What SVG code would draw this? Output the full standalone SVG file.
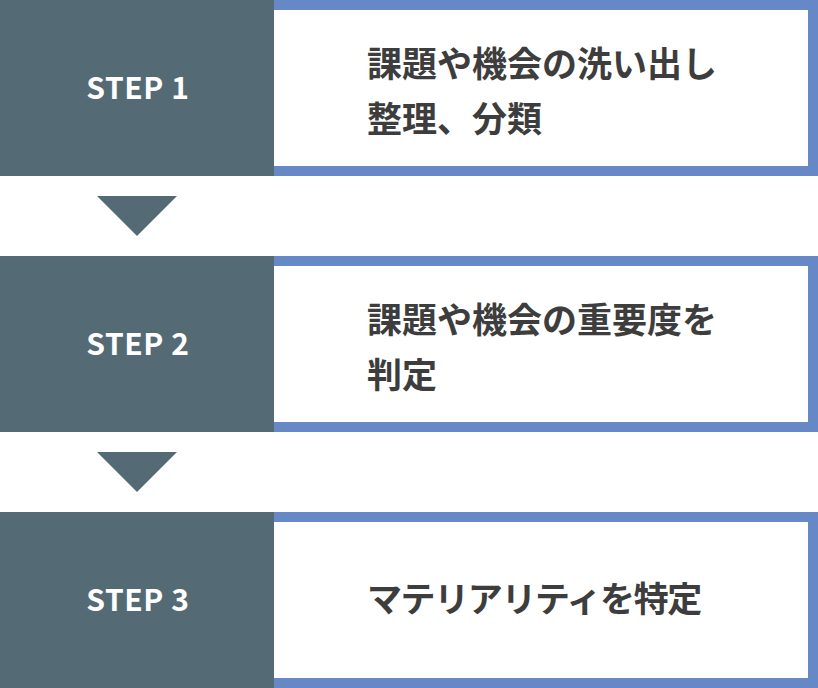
<svg xmlns="http://www.w3.org/2000/svg" width="818" height="688" viewBox="0 0 818 688">
<style>
.step{fill:#546b75}
.frame{fill:#6788c7}
.inner{fill:#ffffff}
.arrow{fill:#546b75}
.lbl{font-family:"Noto Sans CJK JP","Noto Sans",sans-serif;font-weight:700;font-size:30px;letter-spacing:0.6px;fill:#ffffff;text-anchor:middle}
.txt{font-family:"Noto Sans CJK JP",sans-serif;font-weight:700;font-size:35px;fill:#3d3d3d}
</style>
<rect width="818" height="688" fill="#ffffff"/>
<g id="step1">
<rect class="step" x="0" y="0" width="274" height="176"/>
<rect class="frame" x="274" y="0" width="544" height="176"/>
<rect class="inner" x="274" y="10" width="534" height="156"/>
<text class="lbl" x="138" y="99">STEP 1</text>
<text class="txt" x="367" y="77">課題や機会の洗い出し</text>
<text class="txt" x="367" y="132">整理、分類</text>
</g>
<g id="step2">
<rect class="step" x="0" y="256" width="274" height="176"/>
<rect class="frame" x="274" y="256" width="544" height="176"/>
<rect class="inner" x="274" y="266" width="534" height="156"/>
<text class="lbl" x="138" y="355">STEP 2</text>
<text class="txt" x="367" y="333">課題や機会の重要度を</text>
<text class="txt" x="367" y="388">判定</text>
</g>
<g id="step3">
<rect class="step" x="0" y="512" width="274" height="176"/>
<rect class="frame" x="274" y="512" width="544" height="176"/>
<rect class="inner" x="274" y="522" width="534" height="156"/>
<text class="lbl" x="138" y="611">STEP 3</text>
<text class="txt" x="367" y="612" letter-spacing="-1.4">マテリアリティを特定</text>
</g>
<g id="connectors">
<polygon class="arrow" points="97,196 177,196 137,236"/>
<polygon class="arrow" points="97,452 177,452 137,492"/>
</g>
</svg>
